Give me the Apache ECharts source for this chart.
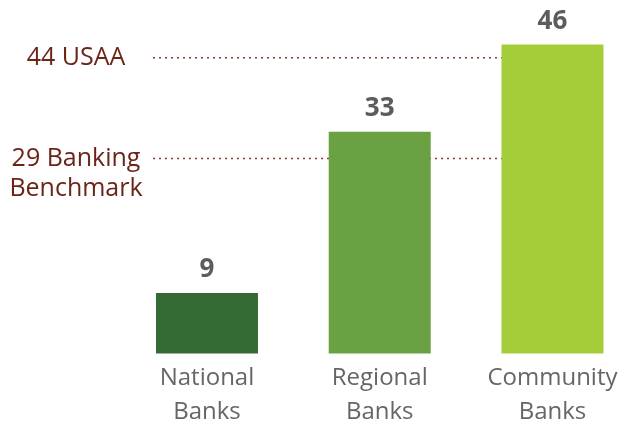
<!DOCTYPE html>
<html><head><meta charset="utf-8">
<script src="https://cdn.jsdelivr.net/npm/echarts@6/dist/echarts.min.js"></script>
<style>html,body{margin:0;padding:0;background:#fff}#c{width:620px;height:422px}</style>
</head><body><div id="c"></div>
<script>
var categories = ['National\nBanks', 'Regional\nBanks', 'Community\nBanks'];
var values = [9, 33, 46];
var barColors = ['#346b35', '#6aa142', '#a5cd3a'];
var refValues = [44, 29];
var refLabels = ['44 USAA', '29 Banking\nBenchmark'];

var FONT = '"Open Sans", "Noto Sans", sans-serif';
var chart = echarts.init(document.getElementById('c'), null, {renderer: 'canvas'});

var refSeries = refValues.map(function (v) {
  return {
    type: 'line', xAxisIndex: 1, yAxisIndex: 1, z: 1,
    data: [v, v], symbol: 'none', silent: true,
    lineStyle: {color: '#8a3b2c', width: 1.5, type: [2, 4]}
  };
});

chart.setOption({
  animation: false,
  grid: [
    {left: 120.6, width: 518.25, top: 17.5, bottom: 68.5, containLabel: false, outerBoundsMode: 'none'},
    {left: 153, width: 448, top: 17.5, bottom: 68.5, containLabel: false, outerBoundsMode: 'none'}
  ],
  xAxis: [
    {type: 'category', gridIndex: 0, data: categories,
     axisLine: {show: false}, axisTick: {show: false},
     axisLabel: {interval: 0, hideOverlap: false, fontFamily: FONT, fontSize: 24, lineHeight: 34, color: '#666', margin: 8}},
    {type: 'category', gridIndex: 1, data: ['', ''], boundaryGap: false, show: false}
  ],
  yAxis: [
    {type: 'value', gridIndex: 0, min: 0, max: 50, show: false},
    {type: 'value', gridIndex: 1, min: 0, max: 50, show: false}
  ],
  series: refSeries.concat([{
    type: 'bar', xAxisIndex: 0, yAxisIndex: 0, z: 3, barWidth: 102,
    data: values.map(function (v, i) { return {value: v, itemStyle: {color: barColors[i]}}; }),
    label: {show: true, position: 'top', distance: 10, fontFamily: FONT, fontSize: 26,
            fontWeight: 'bold', color: '#5c5c5c'}
  }])
});

var graphics = refValues.map(function (v, i) {
  var py = chart.convertToPixel({yAxisIndex: 1}, v);
  return {
    type: 'text', x: 76, y: py - 15,
    style: {text: refLabels[i], fontFamily: FONT, fontSize: 25, lineHeight: 30,
            fill: '#6b2418', textAlign: 'center', textVerticalAlign: 'top'}
  };
});
chart.setOption({graphic: graphics});
</script></body></html>
